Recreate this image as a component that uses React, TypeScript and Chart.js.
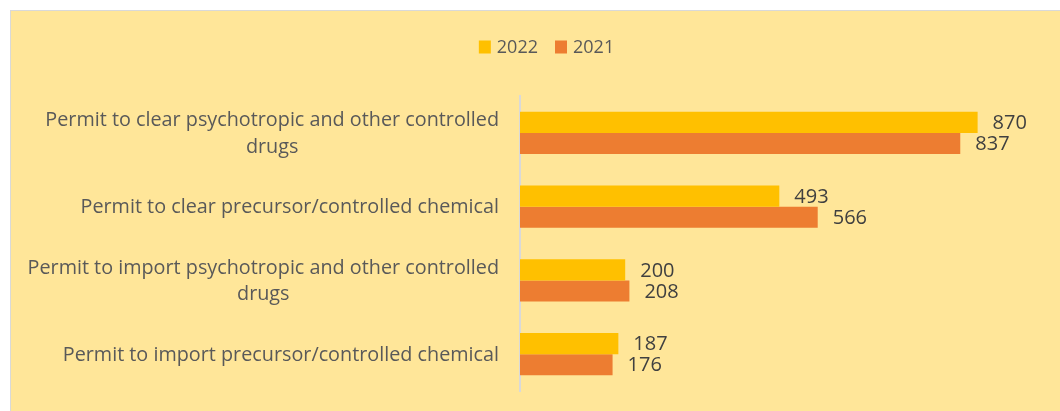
import React, { useEffect, useRef } from "react";
import { Chart, registerables } from "chart.js";

Chart.register(...registerables);

const categories: string[][] = [
  ["Permit to clear psychotropic and other controlled", "drugs"],
  ["Permit to clear precursor/controlled chemical"],
  ["Permit to import psychotropic and other controlled", "drugs"],
  ["Permit to import precursor/controlled chemical"],
];
const seriesNames = ["2022", "2021"];
const values2022 = [870, 493, 200, 187];
const values2021 = [837, 566, 208, 176];
const seriesColors = ["#FFC000", "#ED7D31"];

const FONT = "'Open Sans', 'Noto Sans', sans-serif";

const labelPlugin = {
  id: "customLabels",
  afterDatasetsDraw(chart: any) {
    const ctx = chart.ctx;
    ctx.save();
    // data labels
    ctx.font = `20px ${FONT}`;
    ctx.fillStyle = "#404040";
    ctx.textAlign = "left";
    ctx.textBaseline = "middle";
    chart.data.datasets.forEach((ds: any, di: number) => {
      const meta = chart.getDatasetMeta(di);
      meta.data.forEach((el: any, i: number) => {
        ctx.fillText(String(ds.data[i]), el.x + 15, el.y + 1);
      });
    });
    // category labels: block right-aligned, lines centered
    const yScale = chart.scales.y;
    ctx.font = `19.8px ${FONT}`;
    ctx.fillStyle = "#595959";
    ctx.textAlign = "center";
    const right = yScale.right - 21;
    const lh = 26.5;
    (chart.data.labels as string[][]).forEach((lines, i) => {
      const cy = yScale.getPixelForTick(i) + 1;
      const maxW = Math.max(...lines.map((l) => ctx.measureText(l).width));
      const cx = right - maxW / 2;
      const y0 = cy - ((lines.length - 1) * lh) / 2;
      lines.forEach((l, k) => ctx.fillText(l, cx, y0 + k * lh));
    });
    // legend
    ctx.font = `18px ${FONT}`;
    ctx.textAlign = "left";
    const items = chart.data.datasets.map((ds: any) => ({
      label: ds.label,
      color: ds.backgroundColor,
      w: ctx.measureText(ds.label).width,
    }));
    const box = 12;
    const gap = 6;
    const itemGap = 17;
    const total =
      items.reduce((s: number, it: any) => s + box + gap + it.w, 0) +
      itemGap * (items.length - 1);
    let x = 535.5 - total / 2;
    const ly = 36;
    items.forEach((it: any) => {
      ctx.fillStyle = it.color;
      ctx.fillRect(x, ly - 6.5, box, 13);
      ctx.fillStyle = "#595959";
      ctx.fillText(it.label, x + box + gap, ly + 1);
      x += box + gap + it.w + itemGap;
    });
    ctx.restore();
  },
};

export default function App() {
  const ref = useRef<HTMLCanvasElement | null>(null);
  useEffect(() => {
    document.body.style.margin = "0";
    const chart = new Chart(ref.current as HTMLCanvasElement, {
      type: "bar",
      data: {
        labels: categories as any,
        datasets: [
          {
            label: seriesNames[0],
            data: values2022,
            backgroundColor: seriesColors[0],
            categoryPercentage: 0.57,
            barPercentage: 1.0,
          },
          {
            label: seriesNames[1],
            data: values2021,
            backgroundColor: seriesColors[1],
            categoryPercentage: 0.57,
            barPercentage: 1.0,
          },
        ],
      },
      options: {
        indexAxis: "y",
        animation: false,
        responsive: false,
        maintainAspectRatio: false,
        layout: { padding: { top: 85, bottom: 20, right: 14, left: 0 } },
        plugins: {
          legend: { display: false },
          tooltip: { enabled: false },
        },
        scales: {
          x: { display: false, min: 0, max: 1000 },
          y: {
            grid: { display: false },
            border: { display: true, color: "#D9D9D9", width: 2 },
            ticks: { display: false },
            afterFit: (scale: any) => {
              scale.width = 509;
            },
          },
        },
      },
      plugins: [labelPlugin],
    });
    return () => chart.destroy();
  }, []);
  return (
    <div
      style={{
        position: "absolute",
        left: 10,
        top: 10,
        width: 1050,
        height: 401,
        background: "#FFE699",
        borderTop: "1px solid #D9D9D9",
        borderLeft: "1px solid #D9D9D9",
        boxSizing: "border-box",
      }}
    >
      <canvas ref={ref} width={1049} height={400} style={{ display: "block" }} />
    </div>
  );
}
